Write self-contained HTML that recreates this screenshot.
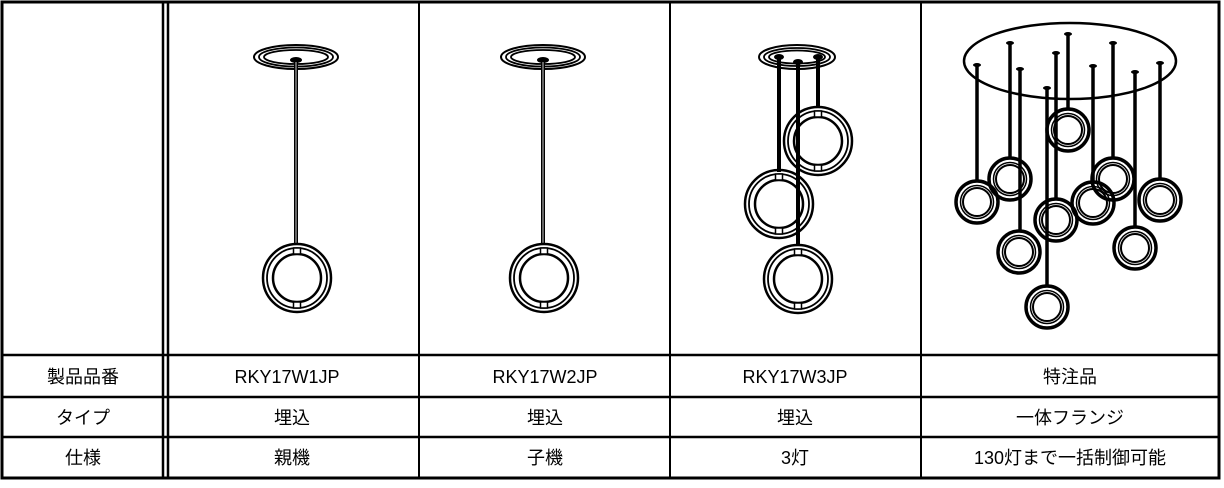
<!DOCTYPE html>
<html><head><meta charset="utf-8"><style>
html,body{margin:0;padding:0;background:#fff;width:1224px;height:488px;overflow:hidden}
svg text{font-family:"Liberation Sans","Noto Sans CJK JP",sans-serif;font-size:18px;fill:#000;text-anchor:middle}
</style></head><body>
<svg width="1224" height="488" viewBox="0 0 1224 488" xmlns="http://www.w3.org/2000/svg">
<defs>
<g id="ring">
 <circle r="34" fill="none" stroke="#000" stroke-width="2.5"/>
 <circle r="30" fill="none" stroke="#000" stroke-width="1.8"/>
 <circle r="24" fill="none" stroke="#000" stroke-width="2.5"/>
 <rect x="-3.5" y="-30" width="7" height="6" fill="#fff" stroke="#000" stroke-width="1.5"/>
 <rect x="-3.5" y="24" width="7" height="6" fill="#fff" stroke="#000" stroke-width="1.5"/>
</g>
<g id="sring">
 <circle r="21" fill="none" stroke="#000" stroke-width="3.5"/>
 <circle r="16.5" fill="none" stroke="#000" stroke-width="1.5"/>
 <circle r="14" fill="none" stroke="#000" stroke-width="2"/>
</g>
<g id="canopy">
 <ellipse rx="42" ry="12" fill="#fff" stroke="#000" stroke-width="2"/>
 <ellipse rx="37" ry="9.5" fill="none" stroke="#000" stroke-width="1.8"/>
 <ellipse rx="32" ry="7" fill="none" stroke="#000" stroke-width="1.8"/>
</g>
</defs>
<g fill="none" stroke="#000">
 <rect x="2" y="2" width="1217" height="476" stroke-width="3"/>
 <line x1="163" y1="2" x2="163" y2="478" stroke-width="2.5"/>
 <line x1="168" y1="2" x2="168" y2="478" stroke-width="2.5"/>
 <line x1="419" y1="2" x2="419" y2="478" stroke-width="2"/>
 <line x1="670" y1="2" x2="670" y2="478" stroke-width="2"/>
 <line x1="921" y1="2" x2="921" y2="478" stroke-width="2"/>
 <line x1="2" y1="355" x2="1219" y2="355" stroke-width="2.5"/>
 <line x1="2" y1="397" x2="1219" y2="397" stroke-width="2.5"/>
 <line x1="2" y1="437" x2="1219" y2="437" stroke-width="2.5"/>
</g>
<g>
 <text x="83" y="383">製品品番</text>
 <text x="83" y="424">タイプ</text>
 <text x="83" y="464">仕様</text>
 <text x="287" y="383">RKY17W1JP</text>
 <text x="292" y="424">埋込</text>
 <text x="292" y="464">親機</text>
 <text x="545" y="383">RKY17W2JP</text>
 <text x="545" y="424">埋込</text>
 <text x="545" y="464">子機</text>
 <text x="795" y="383">RKY17W3JP</text>
 <text x="795" y="424">埋込</text>
 <text x="795" y="464">3灯</text>
 <text x="1070" y="383">特注品</text>
 <text x="1070" y="424">一体フランジ</text>
 <text x="1070" y="464">130灯まで一括制御可能</text>
</g>
<use href="#canopy" x="296" y="57"/>
<ellipse cx="296" cy="60" rx="6" ry="3" fill="#000"/>
<line x1="296" y1="60" x2="296" y2="245" stroke="#000" stroke-width="4"/>
<line x1="296" y1="62" x2="296" y2="245" stroke="#fff" stroke-width="0.8"/>
<use href="#ring" x="297" y="278"/>
<use href="#canopy" x="543" y="57"/>
<ellipse cx="543" cy="60" rx="6" ry="3" fill="#000"/>
<line x1="543" y1="60" x2="543" y2="245" stroke="#000" stroke-width="4"/>
<line x1="543" y1="62" x2="543" y2="245" stroke="#fff" stroke-width="0.8"/>
<use href="#ring" x="544" y="278"/>
<ellipse cx="797" cy="57" rx="38" ry="12" fill="#fff" stroke="#000" stroke-width="2"/>
<ellipse cx="797" cy="57" rx="33" ry="9" fill="none" stroke="#000" stroke-width="1.8"/>
<ellipse cx="797" cy="57" rx="28" ry="6.5" fill="none" stroke="#000" stroke-width="1.8"/>
<ellipse cx="779" cy="57" rx="5" ry="3" fill="#000"/>
<ellipse cx="798" cy="62" rx="5" ry="3" fill="#000"/>
<ellipse cx="818" cy="57" rx="5" ry="3" fill="#000"/>
<g stroke="#000" stroke-width="4">
 <line x1="779" y1="57" x2="779" y2="172"/>
 <line x1="798" y1="62" x2="798" y2="246"/>
 <line x1="818" y1="57" x2="818" y2="108"/>
</g>
<use href="#ring" x="818" y="141"/>
<use href="#ring" x="779" y="204"/>
<use href="#ring" x="798" y="279"/>
<ellipse cx="1070" cy="61" rx="106" ry="38" fill="none" stroke="#000" stroke-width="2.5"/>
<g stroke="#000" stroke-width="3.5">
 <line x1="977" y1="65" x2="977" y2="182"/>
 <line x1="1010" y1="43" x2="1010" y2="159"/>
 <line x1="1020" y1="69" x2="1020" y2="232"/>
 <line x1="1056" y1="53" x2="1056" y2="200"/>
 <line x1="1047" y1="88" x2="1047" y2="287"/>
 <line x1="1068" y1="34" x2="1068" y2="110"/>
 <line x1="1093" y1="66" x2="1093" y2="183"/>
 <line x1="1113" y1="43" x2="1113" y2="159"/>
 <line x1="1135" y1="72" x2="1135" y2="228"/>
 <line x1="1160" y1="63" x2="1160" y2="180"/>
</g>
<g fill="#000">
 <ellipse cx="977" cy="65" rx="4" ry="2"/><ellipse cx="1010" cy="43" rx="4" ry="2"/>
 <ellipse cx="1020" cy="69" rx="4" ry="2"/><ellipse cx="1056" cy="53" rx="4" ry="2"/>
 <ellipse cx="1047" cy="88" rx="4" ry="2"/><ellipse cx="1068" cy="34" rx="4" ry="2"/>
 <ellipse cx="1093" cy="66" rx="4" ry="2"/><ellipse cx="1113" cy="43" rx="4" ry="2"/>
 <ellipse cx="1135" cy="72" rx="4" ry="2"/><ellipse cx="1160" cy="63" rx="4" ry="2"/>
</g>
<g>
 <use href="#sring" x="1068" y="130"/>
 <use href="#sring" x="977" y="202"/>
 <use href="#sring" x="1010" y="179"/>
 <use href="#sring" x="1093" y="203"/>
 <use href="#sring" x="1113" y="179"/>
 <use href="#sring" x="1160" y="200"/>
 <use href="#sring" x="1056" y="220"/>
 <use href="#sring" x="1019" y="252"/>
 <use href="#sring" x="1135" y="248"/>
 <use href="#sring" x="1047" y="307"/>
</g>
</svg>
</body></html>
